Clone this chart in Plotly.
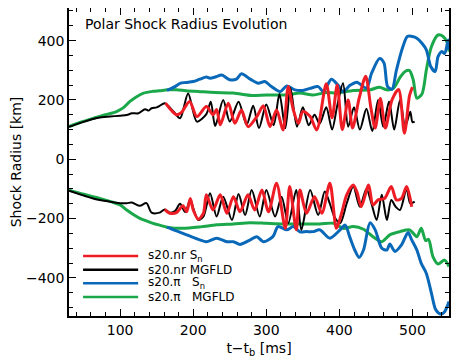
import plotly.graph_objects as go

# s20.nr S_n (red)
t_nr_sn_up = [162, 170, 177, 184, 195, 205, 218, 227, 232, 237, 248, 257, 266, 275, 287, 296, 305, 314, 323, 330, 337, 344, 350, 360, 369, 382, 390, 397, 404, 412, 418, 427, 436, 443, 449, 456, 463, 472, 481, 489, 496, 500]
r_nr_sn_up = [189, 165, 150, 158, 195, 144, 178, 150, 168, 116, 189, 121, 166, 110, 144, 180, 110, 166, 99, 245, 166, 121, 161, 144, 99, 255, 140, 250, 100, 200, 105, 205, 280, 175, 105, 205, 105, 200, 235, 88, 215, 243]
t_nr_sn_dn = [161, 168, 177, 186, 191, 196, 200, 207, 214, 218, 227, 237, 246, 255, 264, 275, 284, 294, 303, 314, 326, 332, 341, 346, 355, 366, 376, 387, 396, 403, 410, 419, 424, 430, 440, 446, 453, 462, 471, 478, 485, 492, 499]
r_nr_sn_dn = [-169, -182, -180, -157, -177, -132, -171, -202, -182, -120, -171, -120, -182, -126, -177, -120, -171, -104, -177, -81, -233, -92, -238, -104, -182, -126, -182, -81, -233, -182, -120, -87, -110, -160, -87, -154, -137, -132, -92, -137, -132, -92, -160]

# s20.nr MGFLD (black)
t_nr_mg_up = [30, 50, 70, 86, 100, 109, 116, 125, 134, 139, 143, 150, 154, 161, 173, 182, 193, 205, 218, 224, 230, 241, 250, 262, 273, 282, 290, 300, 310, 318, 326, 333, 342, 350, 358, 366, 373, 382, 390, 397, 405, 412, 420, 428, 437, 445, 453, 460, 468, 475, 483, 490, 497, 500, 503]
r_nr_mg_up = [109, 126, 140, 144, 147, 149, 155, 155, 169, 164, 172, 175, 180, 189, 161, 138, 222, 127, 152, 194, 112, 200, 127, 194, 116, 180, 105, 185, 115, 220, 105, 240, 110, 175, 115, 150, 120, 175, 100, 180, 256, 110, 175, 100, 170, 95, 200, 110, 195, 100, 200, 110, 160, 125, 127]
t_nr_mg_dn = [30, 63, 86, 100, 109, 116, 127, 136, 143, 154, 161, 168, 175, 182, 189, 196, 200, 207, 214, 223, 232, 241, 253, 262, 271, 280, 291, 300, 312, 321, 330, 341, 348, 360, 371, 380, 387, 393, 401, 410, 419, 428, 437, 444, 451, 458, 465, 471, 477, 483, 492, 497, 503]
r_nr_mg_dn = [-106, -132, -143, -148, -148, -146, -157, -148, -180, -180, -169, -180, -175, -150, -178, -135, -165, -205, -193, -115, -193, -126, -205, -117, -188, -104, -193, -104, -193, -126, -216, -104, -238, -104, -188, -109, -150, -193, -216, -149, -92, -160, -100, -150, -205, -120, -205, -137, -160, -171, -98, -149, -143]

# s20.pi S_n (blue)
t_pi_sn_up = [164, 175, 182, 190, 200, 209, 218, 223, 231, 239, 250, 259, 266, 278, 289, 298, 307, 319, 328, 339, 350, 360, 371, 378, 389, 398, 405, 415, 424, 437, 444, 455, 461, 466, 472, 478, 487, 493, 500, 506, 513, 519, 525, 531, 535, 540, 544, 549, 550]
r_pi_sn_up = [232, 245, 256, 259, 262, 270, 277, 273, 278, 284, 268, 270, 288, 270, 256, 262, 245, 228, 247, 234, 232, 239, 245, 228, 270, 250, 228, 250, 260, 240, 290, 340, 325, 245, 236, 300, 380, 414, 414, 408, 391, 369, 313, 296, 346, 363, 357, 402, 369]
t_pi_sn_dn = [164, 175, 186, 198, 209, 218, 232, 246, 255, 264, 278, 287, 296, 309, 316, 328, 337, 346, 355, 364, 373, 387, 401, 408, 414, 421, 427, 433, 442, 449, 458, 465, 469, 476, 485, 494, 499, 506, 512, 519, 526, 532, 539, 544, 550]
r_pi_sn_dn = [-229, -240, -250, -262, -272, -278, -266, -278, -278, -287, -272, -261, -278, -261, -227, -238, -227, -245, -244, -244, -238, -266, -238, -222, -261, -306, -331, -306, -214, -238, -300, -306, -286, -311, -289, -247, -272, -306, -351, -385, -452, -508, -522, -514, -480]

# s20.pi MGFLD (green)
t_pi_mg_up = [30, 45, 63, 80, 95, 105, 113, 122, 132, 145, 154, 165, 177, 190, 209, 230, 255, 280, 300, 328, 346, 364, 383, 396, 419, 442, 455, 465, 474, 483, 490, 496, 501, 506, 513, 519, 526, 535, 542, 548, 550]
r_pi_mg_up = [110, 124, 138, 150, 161, 175, 194, 210, 223, 229, 231, 234, 234, 231, 228, 225, 223, 215, 217, 217, 223, 217, 225, 223, 232, 234, 243, 234, 239, 276, 296, 299, 268, 206, 220, 301, 380, 419, 414, 391, 363]
t_pi_mg_dn = [30, 50, 72, 90, 100, 109, 118, 127, 136, 145, 155, 164, 186, 210, 232, 255, 278, 300, 323, 346, 373, 392, 405, 419, 433, 446, 458, 469, 483, 496, 506, 512, 518, 522, 528, 535, 544, 550]
r_pi_mg_dn = [-104, -118, -132, -145, -154, -171, -186, -199, -208, -216, -223, -229, -233, -228, -221, -218, -214, -216, -218, -218, -218, -216, -233, -227, -236, -261, -278, -255, -244, -238, -261, -233, -274, -270, -328, -353, -340, -362]

legend_labels = ["s20.nr\u00a0S<sub>n</sub>", "s20.nr\u00a0MGFLD", "s20.\u03c0\u00a0\u00a0\u00a0S<sub>n</sub>", "s20.\u03c0\u00a0\u00a0\u00a0MGFLD"]
legend_colors = ["#ee1c25", "#000000", "#0a68b8", "#1aa84a"]

red, black, blue, green = legend_colors
font = "DejaVu Sans"

fig = go.Figure()
series = [
    (t_pi_mg_up, r_pi_mg_up, green, 3),
    (t_pi_mg_dn, r_pi_mg_dn, green, 3),
    (t_pi_sn_up, r_pi_sn_up, blue, 3),
    (t_pi_sn_dn, r_pi_sn_dn, blue, 3),
    (t_nr_mg_up, r_nr_mg_up, black, 2),
    (t_nr_mg_dn, r_nr_mg_dn, black, 2),
    (t_nr_sn_up, r_nr_sn_up, red, 3),
    (t_nr_sn_dn, r_nr_sn_dn, red, 3),
]
for t, r, c, w in series:
    fig.add_trace(go.Scatter(x=t, y=r, mode='lines', showlegend=False,
                             line=dict(color=c, width=w, shape='spline', smoothing=0.8)))

# legend drawn by hand (IDL style)
for i, (lab, c) in enumerate(zip(legend_labels, legend_colors)):
    yy = 0.195 - i * 0.0445
    fig.add_shape(type='line', xref='paper', yref='paper', x0=0.037, x1=0.182, y0=yy, y1=yy,
                  line=dict(color=c, width=2.5))
    fig.add_annotation(xref='paper', yref='paper', x=0.205, y=yy, text=lab, showarrow=False,
                       xanchor='left', yanchor='middle', borderpad=0,
                       font=dict(family=font, size=12, color='black'))

fig.add_annotation(xref='paper', yref='paper', x=0.037, y=0.948, text="Polar Shock Radius Evolution",
                   showarrow=False, xanchor='left', yanchor='middle',
                   font=dict(family=font, size=14, color='black'))

axis = dict(showgrid=False, zeroline=False, showline=True, linecolor='black', linewidth=1.5,
            mirror='allticks', ticks='inside', ticklen=7, tickwidth=1, tickcolor='black',
            tickfont=dict(family=font, size=14, color='black'))
fig.update_xaxes(axis, range=[30, 550], dtick=100, tick0=0,
                 minor=dict(ticks='inside', ticklen=4, dtick=20, tick0=0, tickcolor='black'),
                 title=dict(text="t\u2212t<sub>b</sub> [ms]", font=dict(family=font, size=14, color='black'), standoff=7))
fig.update_yaxes(axis, range=[-528.5, 510], dtick=200, tick0=0,
                 minor=dict(ticks='inside', ticklen=4, dtick=50, tick0=0, tickcolor='black'),
                 title=dict(text="Shock Radius [km]", font=dict(family=font, size=14, color='black'), standoff=26))
# page body keeps its 8px margin, so the figure is 8px smaller
fig.update_layout(width=455, height=352, margin=dict(l=61, r=14, t=0, b=44, autoexpand=False),
                  plot_bgcolor='white', paper_bgcolor='white')
fig.write_html("out.html")
